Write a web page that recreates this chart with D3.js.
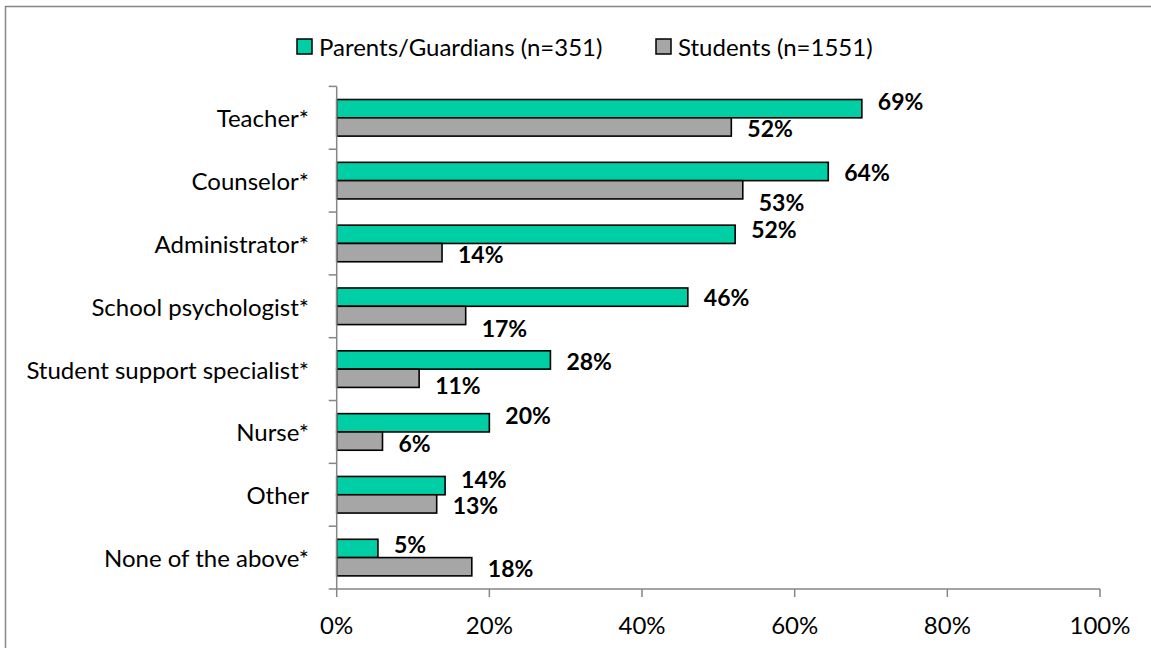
<!DOCTYPE html>
<html>
<head>
<meta charset="utf-8">
<script src="https://cdn.jsdelivr.net/npm/d3@7"></script>
<style>
  body { margin: 0; background: #fff; }
  svg { display: block; font-family: Lato, "Open Sans", sans-serif; }
  .cat { font-size: 24px; fill: #000; }
  .tick-label { font-size: 24px; fill: #000; }
  .val { font-size: 23px; font-weight: bold; fill: #000; }
  .legend text { font-size: 24px; fill: #000; }
</style>
</head>
<body>
<script>
var width = 1151,
    height = 648;

var categories = ["Teacher*", "Counselor*", "Administrator*", "School psychologist*",
    "Student support specialist*", "Nurse*", "Other", "None of the above*"];

var seriesNames = ["Parents/Guardians (n=351)", "Students (n=1551)"];
var seriesColors = ["#00cfa6", "#a6a6a6"];

var parents = [68.8, 64.4, 52.2, 46.0, 28.0, 20.0, 14.2, 5.4];
var students = [51.7, 53.2, 13.8, 16.9, 10.8, 6.0, 13.1, 17.7];

var xTicks = [0, 20, 40, 60, 80, 100];

// hand-placed label nudges (vertical, px) as in the original
var parentsDy = [-7.5, 0.5, -5.5, 0, 1.5, -8, -7, -4];
var studentsDy = [1, 12.5, 1, 13, 7, 2, 1.5, 1.7];

var series = [parents, students],
    nudges = [parentsDy, studentsDy];

var svg = d3.select("body").append("svg")
    .attr("width", width)
    .attr("height", height);

// chart border (right/bottom run off the picture)
svg.append("rect")
    .attr("x", 5.5).attr("y", 6.5)
    .attr("width", 1300).attr("height", 800)
    .attr("fill", "none")
    .attr("stroke", "#868686")
    .attr("stroke-width", 1.5);

var x = d3.scaleLinear().domain([0, 100]).range([336.7, 1100]);

var y = d3.scaleBand().domain(categories).range([86.4, 589]).padding(0);

var barH = 18.3;
var inner = d3.scaleBand().domain([0, 1])
    .range([(y.bandwidth() - 2 * barH) / 2, (y.bandwidth() + 2 * barH) / 2]);

// bars
var groups = svg.selectAll("g.cat-group")
    .data(categories)
  .enter().append("g")
    .attr("class", "cat-group")
    .attr("transform", function(d) { return "translate(0," + y(d) + ")"; });

groups.each(function(c, i) {
    var g = d3.select(this);
    series.forEach(function(s, k) {
        g.append("rect")
            .attr("x", x(0))
            .attr("y", inner(k))
            .attr("width", x(s[i]) - x(0))
            .attr("height", inner.bandwidth())
            .attr("fill", seriesColors[k])
            .attr("stroke", "#000")
            .attr("stroke-width", 1.6);
        g.append("text")
            .attr("class", "val")
            .attr("x", x(s[i]) + 16)
            .attr("y", inner(k) + inner.bandwidth() / 2 + nudges[k][i])
            .attr("dominant-baseline", "central")
            .text(Math.round(s[i]) + "%");
    });
});

// y axis
var yAxis = svg.append("g").attr("stroke", "#868686").attr("stroke-width", 1.5);
yAxis.append("line")
    .attr("x1", x(0)).attr("x2", x(0))
    .attr("y1", y.range()[0]).attr("y2", y.range()[1]);
yAxis.selectAll("line.tk")
    .data(categories.map(function(c) { return y(c); }).concat([y.range()[1]]))
  .enter().append("line")
    .attr("class", "tk")
    .attr("x1", x(0) - 8).attr("x2", x(0))
    .attr("y1", function(d) { return d; }).attr("y2", function(d) { return d; });

svg.selectAll("text.cat")
    .data(categories)
  .enter().append("text")
    .attr("class", "cat")
    .attr("x", 309)
    .attr("y", function(d) { return y(d) + y.bandwidth() / 2; })
    .attr("text-anchor", "end")
    .attr("dominant-baseline", "central")
    .text(function(d) { return d; });

// x axis
var xAxis = svg.append("g").attr("stroke", "#868686").attr("stroke-width", 1.5);
xAxis.append("line")
    .attr("x1", x(0)).attr("x2", x(100))
    .attr("y1", y.range()[1]).attr("y2", y.range()[1]);
xAxis.selectAll("line.tk")
    .data(xTicks)
  .enter().append("line")
    .attr("class", "tk")
    .attr("x1", x).attr("x2", x)
    .attr("y1", y.range()[1]).attr("y2", y.range()[1] + 8);

svg.selectAll("text.tick-label")
    .data(xTicks)
  .enter().append("text")
    .attr("class", "tick-label")
    .attr("x", x)
    .attr("y", 624)
    .attr("text-anchor", "middle")
    .attr("dominant-baseline", "central")
    .text(function(d) { return d + "%"; });

// legend
var legendX = [297, 656];
var legend = svg.append("g").attr("class", "legend");
seriesNames.forEach(function(name, k) {
    legend.append("rect")
        .attr("x", legendX[k]).attr("y", 39)
        .attr("width", 15).attr("height", 15)
        .attr("fill", seriesColors[k])
        .attr("stroke", "#000")
        .attr("stroke-width", 1.5);
    legend.append("text")
        .attr("x", legendX[k] + 22)
        .attr("y", 46.5)
        .attr("dominant-baseline", "central")
        .text(name);
});
</script>
</body>
</html>
